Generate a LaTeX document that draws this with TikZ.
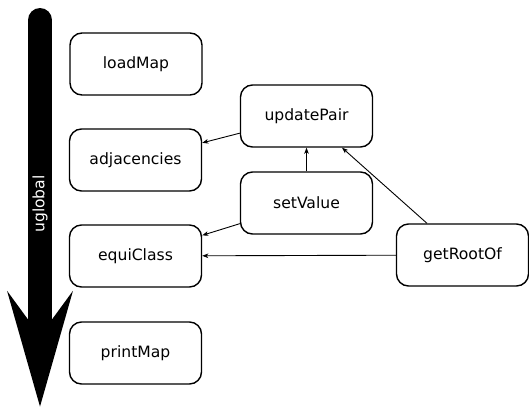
\documentclass[tikz,border=0pt]{standalone}
\usepackage{fontspec}
\setmainfont{DejaVu Sans}
\usetikzlibrary{arrows.meta}

\begin{document}
\begin{tikzpicture}[x=1pt,y=-1pt,
  fn/.style={draw, line width=1.4pt, rounded corners=12pt, minimum width=132pt,
    minimum height=62pt, font=\fontsize{15.6}{18}\selectfont},
  call/.style={line width=0.9pt, -{Stealth[length=6pt,width=4.5pt,inset=1.5pt]}}]
\useasboundingbox (0,0) rectangle (529,407);
% time line
\draw [line width=24pt, line cap=round, -{Stealth[length=114pt,width=64pt,inset=43pt]}]
(40,20) -- (40,407);
\node [rotate=90, text=white, font=\fontsize{15.6}{18}\selectfont] (ug) at (40,204) {uglobal};
% globals
\node [fn] (loadMap) at (136, 64) {loadMap};
\node [fn] (adj) at (135.5, 160) {adjacencies};
\node [fn] (equi) at (135.5, 256) {equiClass};
\node [fn] (printMap) at (135.5, 353) {printMap};
% functions
\node [fn] (upd) at (306.5, 116) {updatePair};
\node [fn] (setv) at (306.5, 203) {setValue};
\node [fn] (root) at (462.5, 255) {getRootOf};
\draw [call] (upd) -- (adj);
\draw [call] (setv) -- (upd);
\draw [call] (setv) -- (equi);
\draw [call] (root) -- (equi);
\draw [call] (root) -- (upd);
\end{tikzpicture}
\end{document}
